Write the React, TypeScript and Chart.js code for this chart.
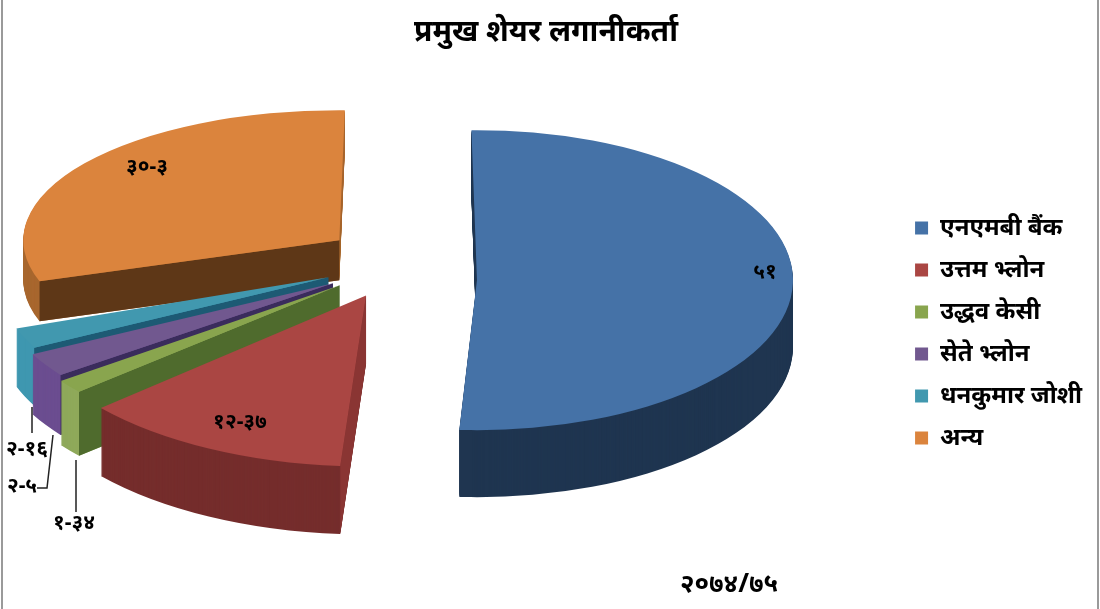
import { Chart, registerables } from 'chart.js'
import { useEffect, useRef } from 'react'

Chart.register(...registerables)

const categories = ['एनएमबी बैंक', 'उत्तम भ्लोन', 'उद्धव केसी', 'सेते भ्लोन', 'धनकुमार जोशी', 'अन्य']
const shares = [51, 12.37, 1.34, 2.5, 2.16, 30.3]
const shareLabels = ['५१', '१२-३७', '१-३४', '२-५', '२-१६', '३०-३']
const chartTitle = 'प्रमुख शेयर लगानीकर्ता'
const yearLabel = '२०७४/७५'

const faceColors = ['#4572A7', '#AA4643', '#89A54E', '#71588F', '#4198AF', '#DB843D']
const rimColors = ['#1F3550', '#752D2C', '#8FA95A', '#6B4D90', '#3E97B0', '#A8672F']
const cutColors = ['#1F3550', '#8A3533', '#4F6B2D', '#3A2C5C', '#1D5A74', '#5E3717']

const fontFamily = '"Noto Sans", "DejaVu Sans", sans-serif'

// pie is squashed into an ellipse and pulled apart here, Chart.js only does the angles
const tilt = { cx: 400, cy: 275, explode: 67, flatten: 0.46 }
// the reference has perspective so each slice gets its own size and small correction
const sliceRx = [316, 352, 346, 338, 331, 316]
const sliceRy = [150, 171, 162, 155, 154, 130]
const sliceDepth = [67, 68, 64, 60, 58, 40]
const nudgeX = [10, -4, -8, -10, -10, -6]
const nudgeY = [4, -7, -9, -8, -10, -17]
const nudgeAngle = [-1, 0, 0, 0, 0, 1]
const drawOrder = [5, 4, 3, 2, 1, 0]

const pie3d = {
  id: 'pie3d',
  beforeDatasetsDraw(chart: any) {
    const { ctx } = chart
    const arcs = chart.getDatasetMeta(0).data
    drawOrder.forEach((i) => {
      const arc = arcs[i]
      const base = {
        options: arc.options,
        startAngle: arc.startAngle,
        endAngle: arc.endAngle,
      }
      const shift = (nudgeAngle[i] * Math.PI) / 180
      const start = base.startAngle + shift
      const end = base.endAngle + shift
      const mid = (base.startAngle + base.endAngle) / 2
      const ax = tilt.cx + Math.cos(mid) * tilt.explode + nudgeX[i]
      const ay = tilt.cy + Math.sin(mid) * tilt.explode * tilt.flatten + nudgeY[i]
      const sx = sliceRx[i] / arc.outerRadius
      const sy = sliceRy[i] / arc.outerRadius

      const paint = (color: string, drop: number) => {
        ctx.save()
        ctx.translate(ax, ay + drop)
        ctx.scale(sx, sy)
        ctx.translate(-arc.x, -arc.y)
        arc.options = { ...base.options, backgroundColor: color, borderWidth: 0 }
        arc.startAngle = start
        arc.endAngle = end
        arc.draw(ctx)
        ctx.restore()
      }

      const depth = sliceDepth[i]
      // outer wall first
      for (let d = depth; d > 0; d--) paint(rimColors[i], d)

      // flat cut wall along the slice's starting edge
      const px = ax + Math.cos(start) * sliceRx[i]
      const py = ay + Math.sin(start) * sliceRy[i]
      ctx.fillStyle = cutColors[i]
      ctx.beginPath()
      ctx.moveTo(ax, ay)
      ctx.lineTo(px, py)
      ctx.lineTo(px, py + depth)
      ctx.lineTo(ax, ay + depth)
      ctx.closePath()
      ctx.fill()

      paint(faceColors[i], 0)

      arc.options = base.options
      arc.startAngle = base.startAngle
      arc.endAngle = base.endAngle
    })
    return false
  },
  afterDraw(chart: any) {
    const { ctx } = chart
    ctx.save()
    ctx.fillStyle = '#000'
    ctx.textAlign = 'center'
    ctx.textBaseline = 'middle'
    ctx.font = `bold 21px ${fontFamily}`
    ctx.fillText(shareLabels[0], 765, 272)
    ctx.fillText(shareLabels[1], 240, 422)
    ctx.fillText(shareLabels[5], 147, 167)
    ctx.fillText(shareLabels[4], 27, 449)
    ctx.fillText(shareLabels[3], 22, 486)
    ctx.fillText(shareLabels[2], 74, 523)
    ctx.font = `bold 26px ${fontFamily}`
    ctx.fillText(yearLabel, 729, 585)

    // leader lines for the thin slices
    ctx.strokeStyle = '#222'
    ctx.lineWidth = 1.5
    ctx.beginPath()
    ctx.moveTo(32, 407)
    ctx.lineTo(32, 433)
    ctx.moveTo(53, 435)
    ctx.lineTo(47, 488)
    ctx.lineTo(37, 488)
    ctx.moveTo(76, 460)
    ctx.lineTo(76, 512)
    ctx.stroke()

    // side edges of the frame, the screenshot has no top or bottom line
    ctx.fillStyle = '#9a9a9a'
    ctx.fillRect(1, 0, 2, 609)
    ctx.fillRect(1097, 0, 2, 609)
    ctx.restore()
  },
}

export default function App() {
  const canvasRef = useRef<HTMLCanvasElement>(null)

  useEffect(() => {
    if (!canvasRef.current) return
    const chart = new Chart(canvasRef.current, {
      type: 'pie',
      data: {
        labels: categories,
        datasets: [{ data: shares, backgroundColor: faceColors, borderWidth: 0 }],
      },
      options: {
        responsive: false,
        animation: false,
        layout: { padding: { right: 8 } },
        plugins: {
          title: {
            display: true,
            text: chartTitle,
            color: '#000',
            font: { family: fontFamily, size: 30, weight: 'bold' },
            padding: { top: 14, bottom: 7 },
          },
          legend: {
            position: 'right',
            fullSize: false,
            labels: {
              color: '#000',
              boxWidth: 13,
              boxHeight: 13,
              padding: 18,
              font: { family: fontFamily, size: 24, weight: 'bold' },
            },
          },
          tooltip: { enabled: false },
        },
      },
      plugins: [pie3d],
    } as any)
    return () => chart.destroy()
  }, [])

  return (
    <div style={{ position: 'absolute', left: 0, top: 0, width: 1100, height: 609, background: '#fff' }}>
      <canvas ref={canvasRef} width="1100" height="609"></canvas>
    </div>
  )
}
